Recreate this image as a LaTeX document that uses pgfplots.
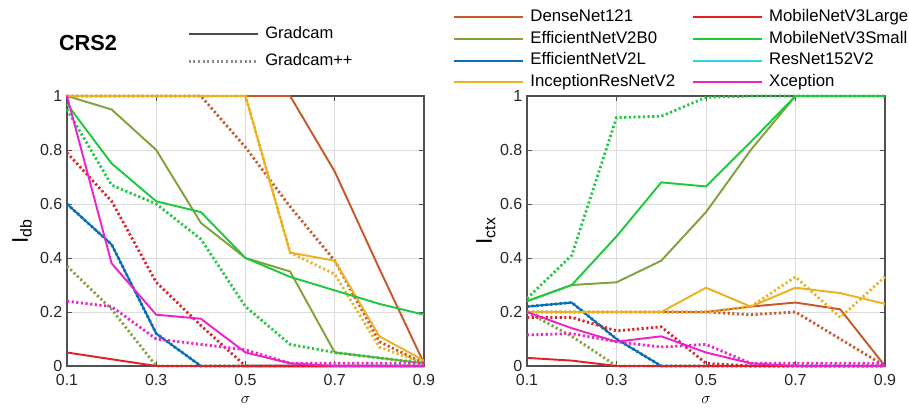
\documentclass[border=0pt]{standalone}
\usepackage{fontspec}
\setmainfont{Liberation Sans}
\usepackage{pgfplots}
\usepackage{pgfplotstable}
\pgfplotsset{compat=1.18}

\definecolor{cDense}{HTML}{C8582A}
\definecolor{cB0}{HTML}{7FA33A}
\definecolor{cL}{HTML}{0B6FB8}
\definecolor{cInc}{HTML}{EDB120}
\definecolor{cML}{HTML}{E02028}
\definecolor{cMS}{HTML}{1FC83C}
\definecolor{cRes}{HTML}{2CD3E0}
\definecolor{cXc}{HTML}{EE22CC}
\definecolor{axgray}{HTML}{505050}
\definecolor{gridgray}{HTML}{DCDCDC}

% I_db (left)
\pgfplotstableread{
x   dS   dD   bS   bD   lS   lD   iS   iD   mlS   mlD  msS  msD  xS    xD
0.1 1    1    1    0.37 0.6  0.6  1    1    0.05  0.79 0.97 0.95 1     0.24
0.2 1    1    0.95 0.21 0.45 0.45 1    1    0.025 0.61 0.75 0.67 0.38  0.22
0.3 1    1    0.8  0    0.12 0.12 1    1    0     0.31 0.61 0.6  0.19  0.1
0.4 1    1    0.53 0    0    0    1    1    0     0.15 0.57 0.47 0.175 0.08
0.5 1    0.81 0.4  0    0    0    1    1    0     0    0.4  0.22 0.05  0.06
0.6 1    0.59 0.35 0    0    0    0.42 0.42 0    0    0.33 0.08 0.01  0.01
0.7 0.72 0.39 0.05 0    0    0    0.39 0.34 0    0    0.28 0.05 0     0.01
0.8 0.36 0.09 0.03 0    0    0    0.11 0.07 0    0    0.23 0.03 0     0.01
0.9 0.01 0.01 0.01 0    0    0    0.02 0.01 0    0    0.19 0.01 0     0.01
}\dbtab

% I_ctx (right)
\pgfplotstableread{
x   dS    dD   bS   bD   lS    lD    iS   iD   mlS  mlD   msS   msD   xS   xD
0.1 0.2   0.2  0.24 0.2  0.22  0.22  0.2  0.2  0.03 0.18  0.24  0.25  0.2  0.115
0.2 0.2   0.2  0.3  0.11 0.235 0.235 0.2  0.2  0.02 0.18  0.3   0.41  0.14 0.12
0.3 0.2   0.2  0.31 0    0.1   0.1   0.2  0.2  0    0.13  0.48  0.92  0.09 0.09
0.4 0.2   0.2  0.39 0    0     0     0.2  0.2  0    0.145 0.68  0.925 0.11 0.07
0.5 0.2   0.2  0.57 0    0     0     0.29 0.2  0    0.01  0.665 0.995 0.05 0.08
0.6 0.22  0.19 0.8  0    0     0     0.22 0.22 0    0     0.83  1     0.01 0.01
0.7 0.235 0.2  1    0    0     0     0.29 0.33 0    0     1     1     0    0.01
0.8 0.21  0.1  1    0    0     0     0.27 0.18 0    0     1     1     0    0.01
0.9 0     0    1    0    0     0     0.23 0.33 0    0     1     1     0    0.01
}\ctxtab

\pgfplotsset{
  S/.style={line width=1.45pt},
  D/.style={line width=2.1pt, dash pattern=on 1.6pt off 1.9pt},
  crs/.style={
    scale only axis,
    height=202.5pt,
    xmin=0.1, xmax=0.9, ymin=0, ymax=1,
    xtick={0.1,0.3,0.5,0.7,0.9},
    ytick={0,0.2,0.4,0.6,0.8,1},
    grid=major,
    major grid style={gridgray, line width=0.5pt},
    axis line style={axgray, line width=0.8pt},
    tick align=inside, tick pos=both,
    major tick length=3.5pt,
    every tick/.style={axgray, line width=0.6pt},
    tick label style={font=\fontsize{12}{14}\selectfont, text=black!85},
    /pgf/number format/assume math mode=true,
    xticklabel style={yshift=-2.5pt},
    xlabel={$\sigma$},
    xlabel style={at={(axis description cs:0.5,-0.127)}, anchor=center,
      font=\fontsize{13}{14}\selectfont},
    ylabel style={anchor=center, font=\fontsize{17}{18}\selectfont},
    clip=false,
    legend image code/.code={\draw[#1] (0pt,0pt) -- (52pt,0pt);},
  },
}

\begin{document}
\begin{tikzpicture}
\useasboundingbox (0,0) rectangle (681.75pt,307.5pt);

\node[font=\bfseries\fontsize{16.3}{18}\selectfont] at (66pt,275.25pt) {CRS2};

\begin{axis}[crs,
  at={(50.25pt,33pt)}, anchor=south west,
  width=267.75pt,
  ylabel={I\textsubscript{db}},
  ylabel style={at={(axis description cs:-0.126,0.5)}},
  legend cell align=left,
  legend style={at={(axis description cs:0.336,1.262)}, anchor=north west,
    draw=none, fill=none, inner sep=0pt, row sep=8.2pt,
    font=\fontsize{12.4}{14}\selectfont,
    nodes={inner sep=0.5pt, text height=9pt, text depth=2.5pt},
    /tikz/every odd column/.append style={column sep=4pt}},
]
\addlegendimage{S, color=black!70}
\addlegendentry{Gradcam}
\addlegendimage{D, color=black!45}
\addlegendentry{Gradcam++}
\addplot[S, cDense, forget plot] table[x=x, y=dS] {\dbtab};
\addplot[D, cDense, forget plot] table[x=x, y=dD] {\dbtab};
\addplot[S, cB0, forget plot] table[x=x, y=bS] {\dbtab};
\addplot[D, cB0, forget plot] table[x=x, y=bD] {\dbtab};
\addplot[D, cL, forget plot] table[x=x, y=lD] {\dbtab};
\addplot[S, cL, forget plot] table[x=x, y=lS] {\dbtab};
\addplot[S, cInc, forget plot] table[x=x, y=iS] {\dbtab};
\addplot[D, cInc, forget plot] table[x=x, y=iD] {\dbtab};
\addplot[S, cML, forget plot] table[x=x, y=mlS] {\dbtab};
\addplot[D, cML, forget plot] table[x=x, y=mlD] {\dbtab};
\addplot[S, cMS, forget plot] table[x=x, y=msS] {\dbtab};
\addplot[D, cMS, forget plot] table[x=x, y=msD] {\dbtab};
\addplot[S, cXc, forget plot] table[x=x, y=xS] {\dbtab};
\addplot[D, cXc, forget plot] table[x=x, y=xD] {\dbtab};
\end{axis}

\begin{axis}[crs,
  at={(395.25pt,33pt)}, anchor=south west,
  width=268.5pt,
  ylabel={I\textsubscript{ctx}},
  ylabel style={at={(axis description cs:-0.115,0.5)}},
  legend columns=4, transpose legend,
  legend cell align=left,
  legend style={at={(axis description cs:-0.207,1.325)}, anchor=north west,
    draw=none, fill=none, inner sep=0pt, row sep=3.9pt,
    font=\fontsize{12.6}{14}\selectfont,
    nodes={inner sep=0.5pt, text height=9pt, text depth=2.5pt},
    /tikz/every odd column/.append style={column sep=4pt},
    /tikz/every even column/.append style={column sep=12pt}},
]
\addplot[S, cDense] table[x=x, y=dS] {\ctxtab};
\addlegendentry{DenseNet121}
\addplot[D, cDense, forget plot] table[x=x, y=dD] {\ctxtab};
\addplot[S, cB0] table[x=x, y=bS] {\ctxtab};
\addlegendentry{EfficientNetV2B0}
\addplot[D, cB0, forget plot] table[x=x, y=bD] {\ctxtab};
\addplot[D, cL, forget plot] table[x=x, y=lD] {\ctxtab};
\addplot[S, cL] table[x=x, y=lS] {\ctxtab};
\addlegendentry{EfficientNetV2L}
\addplot[S, cInc] table[x=x, y=iS] {\ctxtab};
\addlegendentry{InceptionResNetV2}
\addplot[D, cInc, forget plot] table[x=x, y=iD] {\ctxtab};
\addplot[S, cML] table[x=x, y=mlS] {\ctxtab};
\addlegendentry{MobileNetV3Large}
\addplot[D, cML, forget plot] table[x=x, y=mlD] {\ctxtab};
\addplot[S, cMS] table[x=x, y=msS] {\ctxtab};
\addlegendentry{MobileNetV3Small}
\addplot[D, cMS, forget plot] table[x=x, y=msD] {\ctxtab};
\addlegendimage{S, cRes}
\addlegendentry{ResNet152V2}
\addplot[S, cXc] table[x=x, y=xS] {\ctxtab};
\addlegendentry{Xception}
\addplot[D, cXc, forget plot] table[x=x, y=xD] {\ctxtab};
\end{axis}
\end{tikzpicture}
\end{document}
